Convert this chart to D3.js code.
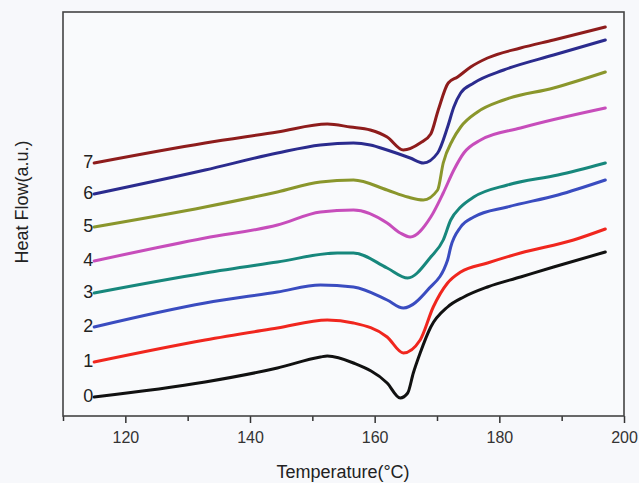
<!DOCTYPE html>
<html>
<head>
<meta charset="utf-8">
<script src="https://cdn.jsdelivr.net/npm/d3@7"></script>
<style>
  body { margin: 0; background: #f7f8fb; }
  svg { display: block; font-family: "Liberation Sans", Arial, sans-serif; }
</style>
</head>
<body>
<svg id="chart" width="639" height="483"></svg>
<script>
// DSC heating curves, samples 0..7 (heat flow in a.u., offsets included)
var labels = ["0", "1", "2", "3", "4", "5", "6", "7"];
var colors = ["#111111", "#f0261e", "#3a4cc0", "#17877c", "#c74dbb", "#8a962c", "#2b2b8e", "#8e1c1c"];

var curve0 = [[115,4.75],[132.8,8.5],[144.4,12],[151.3,14.75],[152.4,15],[156.6,13.25],[162,8.25],[164.1,4.5],[165.3,5.75],[166.2,10.75],[167.3,15.75],[169,22.25],[171.7,27.25],[174.3,29.75],[178.1,32.25],[183.4,34.75],[188.7,37.25],[197,41]];
var curve1 = [[115,13.5],[132.8,19],[144.4,22],[152.4,24],[156.6,23.25],[162,19.75],[164.6,15.75],[167.3,19],[169.4,27.25],[171.7,33.25],[173.8,36],[178.1,38.25],[183.4,40.75],[191.9,44],[197,46.75]];
var curve2 = [[115,22.25],[132.8,28.25],[144.4,31],[151.3,32.75],[156.6,32.25],[162,29],[164.6,27],[168.5,31.5],[171.7,39],[172.2,42.25],[173.8,47.25],[175.9,49.75],[181.3,52.25],[189.4,55.25],[197,59]];
var curve3 = [[115,30.75],[132.8,35.75],[144.4,38.5],[154,40.75],[156.6,40.75],[162,37],[165.3,34.5],[169,39.75],[171,44],[172.2,49],[173.8,52.25],[175.9,54.75],[181.3,57.75],[189.4,60.25],[197,63.25]];
var curve4 = [[115,38.75],[132.8,44.5],[144.4,47.75],[151.3,51],[156.6,51.5],[162,48.25],[164.1,45.75],[165.7,44.75],[169,49.75],[171,55.75],[172.7,61.5],[174.3,65.75],[177,69],[183.4,72],[197,77]];
var curve5 = [[115,47.25],[132.8,52.25],[144.4,56],[151.3,58.5],[156.6,59],[162,56.5],[165.3,54.75],[167.8,54],[170.1,56.5],[171,63.25],[172.5,69],[173.8,72.25],[176.5,76],[180.7,79],[188.7,82],[197,86]];
var curve6 = [[115,55.5],[132.8,61.5],[144.4,65.75],[151.3,67.75],[156.6,68.25],[159.3,67.75],[162,66.5],[165.7,64.5],[167.8,63.25],[170.1,65.75],[171.7,72.25],[172.7,77.25],[173.8,80.75],[175.9,83.25],[180.7,86.5],[188.7,90.25],[197,94]];
var curve7 = [[115,63.25],[132.8,68.25],[144.4,71],[152.4,73],[156.1,72.25],[159.3,71.5],[162,69.75],[164.6,66.5],[167.3,68.25],[169,70.5],[170.2,76.5],[171.8,83.25],[173.3,84.75],[175.4,87.25],[178.1,89.5],[183.4,92],[188.7,94],[197,97.25]];

var curves = [curve0, curve1, curve2, curve3, curve4, curve5, curve6, curve7];

var majorTicks = [120, 140, 160, 180, 200];
var minorTicks = [110, 130, 150, 170, 190];

// Layout
var plotLeft = 63, plotRight = 624, plotTop = 12, plotBottom = 416;

var svg = d3.select("#chart");

var x = d3.scaleLinear().domain([110, 200]).range([plotLeft, plotRight]);
var y = d3.scaleLinear().domain([0, 101]).range([plotBottom, plotTop]);

// plot area background
svg.append("rect")
    .attr("x", plotLeft).attr("y", plotTop)
    .attr("width", plotRight - plotLeft).attr("height", plotBottom - plotTop)
    .attr("fill", "#f9fafc");

// minor ticks
svg.append("g")
    .attr("transform", "translate(0," + plotBottom + ")")
    .call(d3.axisBottom(x).tickValues(minorTicks).tickSize(5).tickFormat(""))
    .call(function(g){ g.select(".domain").remove(); })
    .selectAll("line").attr("stroke", "#333").attr("stroke-width", 1.5);

// major ticks
var xAxis = svg.append("g")
    .attr("transform", "translate(0," + plotBottom + ")")
    .call(d3.axisBottom(x).tickValues(majorTicks).tickSize(7).tickPadding(9).tickSizeOuter(0));
xAxis.select(".domain").remove();
xAxis.selectAll("line").attr("stroke", "#333").attr("stroke-width", 1.5);
xAxis.selectAll("text").attr("font-size", 16).attr("fill", "#333")
    .attr("font-family", "'Liberation Sans', Arial, sans-serif");

// frame
svg.append("rect")
    .attr("x", plotLeft).attr("y", plotTop)
    .attr("width", plotRight - plotLeft).attr("height", plotBottom - plotTop)
    .attr("fill", "none").attr("stroke", "#444").attr("stroke-width", 1.6);

// curves
var line = d3.line()
    .x(function(d){ return x(d[0]); })
    .y(function(d){ return y(d[1]); })
    .curve(d3.curveMonotoneX);

svg.append("g").selectAll("path")
    .data(curves)
    .join("path")
    .attr("d", line)
    .attr("fill", "none")
    .attr("stroke", function(d, i){ return colors[i]; })
    .attr("stroke-width", 3)
    .attr("stroke-linejoin", "round")
    .attr("stroke-linecap", "round");

// curve labels
svg.append("g").selectAll("text")
    .data(curves)
    .join("text")
    .attr("x", function(d){ return x(d[0][0]) - 1; })
    .attr("y", function(d){ return y(d[0][1]) + 5; })
    .attr("text-anchor", "end")
    .attr("font-size", 18)
    .attr("fill", "#222")
    .text(function(d, i){ return labels[i]; });

// axis titles
svg.append("text")
    .attr("x", 343).attr("y", 478)
    .attr("text-anchor", "middle")
    .attr("font-size", 18)
    .attr("fill", "#222")
    .text("Temperature(°C)");

svg.append("text")
    .attr("transform", "translate(28,202) rotate(-90)")
    .attr("text-anchor", "middle")
    .attr("font-size", 18)
    .attr("fill", "#222")
    .text("Heat Flow(a.u.)");
</script>
</body>
</html>
